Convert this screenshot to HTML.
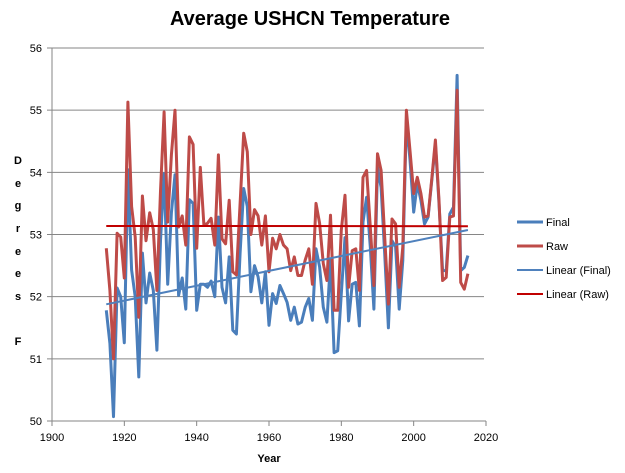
<!DOCTYPE html>
<html><head><meta charset="utf-8"><style>
body{margin:0;background:#fff;}
svg{display:block;font-family:"Liberation Sans",sans-serif;}
</style></head><body>
<svg id="chart" width="625" height="473">
<text x="310" y="25" text-anchor="middle" font-size="20" font-weight="bold">Average USHCN Temperature</text>
<g id="grid"></g>
<g id="yticks"></g>
<g id="xticks"></g>
<g font-size="11" font-weight="bold" text-anchor="middle">
<text x="18" y="164">D</text><text x="18" y="187">e</text><text x="18" y="209">g</text><text x="18" y="232">r</text><text x="18" y="255">e</text><text x="18" y="277">e</text><text x="18" y="300">s</text><text x="18" y="345">F</text>
</g>
<text x="269" y="462" text-anchor="middle" font-size="11" font-weight="bold">Year</text>
<g id="series"></g>
<g font-size="11">
<g><line x1="517" y1="222" x2="543" y2="222" stroke="#4A7EBB" stroke-width="3"/><text x="546" y="226">Final</text></g>
<g><line x1="517" y1="246" x2="543" y2="246" stroke="#BE4B48" stroke-width="3"/><text x="546" y="250">Raw</text></g>
<g><line x1="517" y1="270" x2="543" y2="270" stroke="#4F81BD" stroke-width="2"/><text x="546" y="274">Linear (Final)</text></g>
<g><line x1="517" y1="294" x2="543" y2="294" stroke="#C00000" stroke-width="2"/><text x="546" y="298">Linear (Raw)</text></g>
</g>
</svg>
<script>
const startYear = 1915;
const finalValues = [51.78,51.25,50.07,52.14,52.0,51.26,54.04,52.43,52.0,50.71,52.7,51.9,52.38,52.1,51.14,52.9,53.98,52.2,53.35,53.96,52.02,52.3,51.8,53.56,53.5,51.78,52.2,52.2,52.15,52.25,52.0,53.28,52.15,51.9,52.64,51.46,51.4,52.7,53.74,53.45,52.08,52.5,52.32,51.9,52.4,51.54,52.05,51.89,52.18,52.05,51.91,51.62,51.83,51.56,51.59,51.83,51.97,51.62,52.77,52.48,51.83,51.59,52.59,51.1,51.13,52.05,52.95,51.61,52.2,52.23,51.53,53.2,53.6,52.8,51.8,54.08,53.76,52.69,51.5,52.9,52.8,51.8,52.58,54.84,54.2,53.36,53.82,53.55,53.17,53.28,53.87,54.46,53.5,52.42,52.42,53.33,53.44,55.56,52.42,52.47,52.66];
const rawValues = [52.78,52.1,51.0,53.02,52.96,52.3,55.13,53.45,52.96,51.67,53.62,52.9,53.35,53.08,52.1,53.7,54.97,53.2,54.28,55.0,53.12,53.3,52.83,54.57,54.45,52.78,54.08,53.15,53.18,53.26,52.83,54.28,52.93,52.85,53.55,52.4,52.35,53.5,54.63,54.33,53.0,53.4,53.3,52.83,53.3,52.4,52.94,52.77,53.0,52.83,52.77,52.42,52.64,52.34,52.34,52.59,52.77,52.2,53.5,53.18,52.53,52.26,53.31,51.78,51.78,53.07,53.63,52.15,52.74,52.77,52.1,53.92,54.03,53.12,52.18,54.3,54.03,52.96,51.88,53.25,53.17,52.15,52.8,55.0,54.35,53.66,53.92,53.66,53.28,53.3,53.9,54.52,53.55,52.26,52.31,53.28,53.3,55.32,52.23,52.12,52.37];
const yTickLabels = ["50","51","52","53","54","55","56"];
const xTickLabels = ["1900","1920","1940","1960","1980","2000","2020"];

const NS="http://www.w3.org/2000/svg";
const X0=52,X1=486,Y0=421,Y1=48;
function xScale(yr){return X0+(yr-1900)/120*(X1-X0);}
function yScale(v){return Y0-(v-50)/6*(Y0-Y1);}
function mk(tag,attrs,parent){const e=document.createElementNS(NS,tag);for(const k in attrs)e.setAttribute(k,attrs[k]);parent.appendChild(e);return e;}
const grid=document.getElementById('grid'),yt=document.getElementById('yticks'),xt=document.getElementById('xticks'),ser=document.getElementById('series');
yTickLabels.forEach(l=>{const y=yScale(+l);
 const g=mk('line',{x1:X0-5,x2:(+l===50?X1:484),y1:y,y2:y,stroke:'#868686','stroke-width':1},grid);
 
 
 const t=mk('text',{x:42,y:y+4,'text-anchor':'end','font-size':11},yt);t.textContent=l;
 
 
});
const ax=mk('line',{x1:X0,x2:X0,y1:Y1,y2:Y0,stroke:'#868686'},grid);


xTickLabels.forEach(l=>{const x=xScale(+l);
 const tk=mk('line',{x1:x,x2:x,y1:Y0,y2:Y0+5,stroke:'#868686'},xt);
 
 
 const t=mk('text',{x:x,y:441,'text-anchor':'middle','font-size':11},xt);t.textContent=l;
 
 
});
function pts(vals){return vals.map((v,i)=>xScale(startYear+i).toFixed(1)+','+yScale(v).toFixed(1)).join(' ');}
function fit(vals){const n=vals.length;let sx=0,sy=0,sxx=0,sxy=0;vals.forEach((v,i)=>{sx+=i;sy+=v;sxx+=i*i;sxy+=i*v;});const b=(n*sxy-sx*sy)/(n*sxx-sx*sx);const a=(sy-b*sx)/n;return [a,a+b*(n-1)];}
const pf=mk('polyline',{points:pts(finalValues),fill:'none',stroke:'#4A7EBB','stroke-width':3,'stroke-linejoin':'round'},ser);


const pr=mk('polyline',{points:pts(rawValues),fill:'none',stroke:'#BE4B48','stroke-width':3,'stroke-linejoin':'round'},ser);


const fr=fit(rawValues),ff=fit(finalValues),last=startYear+rawValues.length-1;
const lr=mk('line',{x1:xScale(startYear),x2:xScale(last),y1:yScale(fr[0]),y2:yScale(fr[1]),stroke:'#C00000','stroke-width':2},ser);


const lf=mk('line',{x1:xScale(startYear),x2:xScale(last),y1:yScale(ff[0]),y2:yScale(ff[1]),stroke:'#4F81BD','stroke-width':2},ser);


</script>
</body></html>
